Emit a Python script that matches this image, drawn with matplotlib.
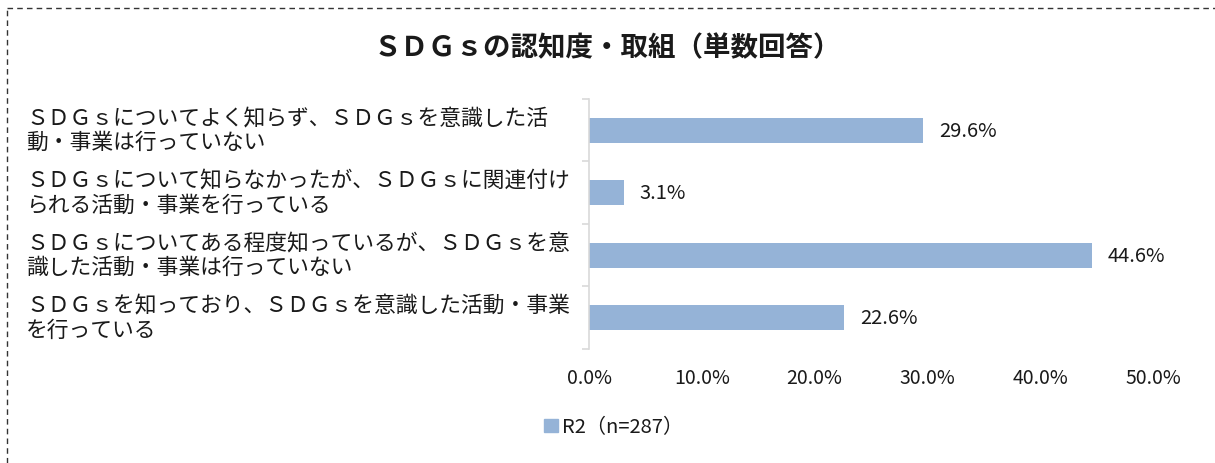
import matplotlib.pyplot as plt
import matplotlib.transforms as mtransforms
from matplotlib.lines import Line2D
from matplotlib.patches import Patch

plt.rcParams['font.family'] = ['Noto Sans CJK JP', 'DejaVu Sans']

# データ
title = 'ＳＤＧｓの認知度・取組（単数回答）'
categories = [
    'ＳＤＧｓについてよく知らず、ＳＤＧｓを意識した活\n動・事業は行っていない',
    'ＳＤＧｓについて知らなかったが、ＳＤＧｓに関連付け\nられる活動・事業を行っている',
    'ＳＤＧｓについてある程度知っているが、ＳＤＧｓを意\n識した活動・事業は行っていない',
    'ＳＤＧｓを知っており、ＳＤＧｓを意識した活動・事業\nを行っている',
]
values = [29.6, 3.1, 44.6, 22.6]
series_name = 'R2（n=287）'
xticks = [0, 10, 20, 30, 40, 50]

bar_color = '#95b3d7'
text_color = '#1a1a1a'

fig = plt.figure(figsize=(12.15, 4.64), dpi=100)
ax = fig.add_axes([0.4848, 0.2457, 0.4642, 0.5388])

y = list(range(len(categories)))
ax.barh(y, values, height=0.4, color=bar_color, zorder=2)
ax.set_ylim(len(categories) - 0.5, -0.5)
ax.set_xlim(0, 50)

for yi, v in zip(y, values):
    ax.text(v + 1.4, yi, f'{v:.1f}%', va='center', ha='left',
            fontsize=14.5, color=text_color)

# 軸の設定
ax.set_xticks(xticks)
ax.set_xticklabels([f'{t:.1f}%' for t in xticks], fontsize=14, color=text_color)
ax.tick_params(axis='x', length=0, pad=13)
ax.set_yticks([])
ax.set_yticks([i - 0.5 for i in range(len(categories) + 1)], minor=True)
ax.tick_params(axis='y', which='minor', length=5, color='#d9d9d9', width=1.2)
for side in ['top', 'right', 'bottom']:
    ax.spines[side].set_visible(False)
ax.spines['left'].set_color('#d9d9d9')
ax.spines['left'].set_linewidth(1.2)

# カテゴリラベル(左揃え)
trans = mtransforms.blended_transform_factory(fig.transFigure, ax.transData)
for yi, label in zip(y, categories):
    ax.text(26 / 1215, yi, label, transform=trans, ha='left', va='center',
            fontsize=15.7, linespacing=1.1, color=text_color)

fig.text(0.5, 1 - 48 / 464, title, ha='center', va='center',
         fontsize=19.8, fontweight='bold', color=text_color)

fig.legend(handles=[Patch(color=bar_color, label=series_name)],
           loc='center', bbox_to_anchor=(0.505, 1 - 428 / 464), frameon=False,
           fontsize=14.5, handlelength=0.65, handleheight=0.65, handletextpad=0.2,
           labelcolor=text_color)

# 点線の枠
fig.add_artist(Line2D([7 / 1215, 1], [1 - 9 / 464, 1 - 9 / 464], transform=fig.transFigure,
                      color='#333333', lw=1, linestyle=(0, (4, 3))))
fig.add_artist(Line2D([7 / 1215, 7 / 1215], [0, 1 - 9 / 464], transform=fig.transFigure,
                      color='#333333', lw=1, linestyle=(0, (4, 3))))

fig.savefig('out.png', dpi=100)
